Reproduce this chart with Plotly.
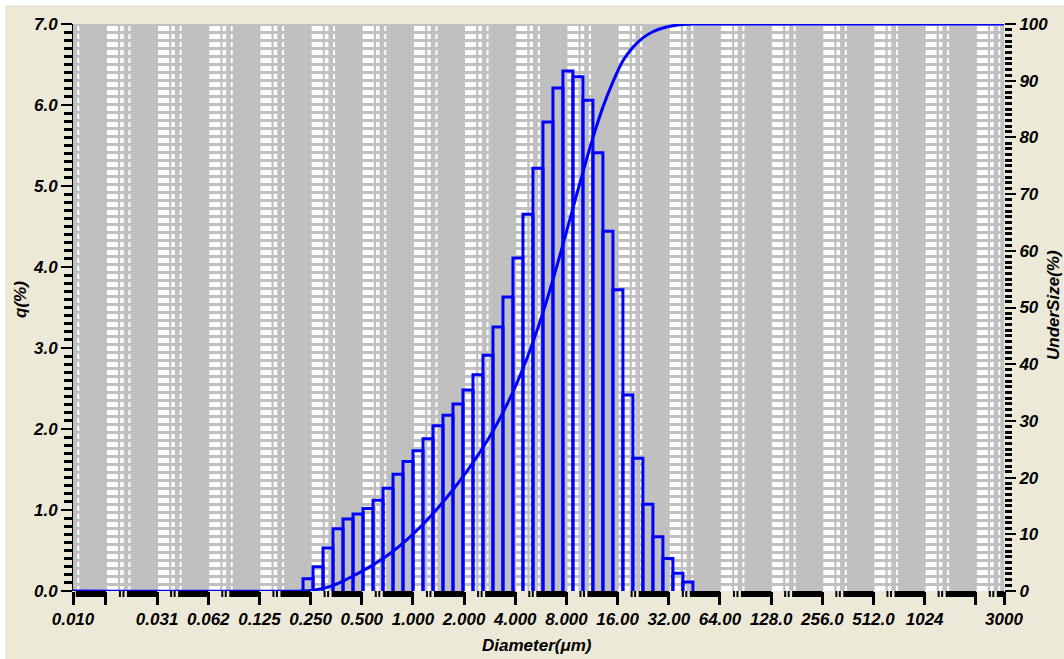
import plotly.graph_objects as go

# ---- data ----
bin_edges = [0.2256, 0.2583, 0.2958, 0.3387, 0.3878, 0.4440, 0.5084, 0.5821, 0.6665, 0.7632,
             0.8738, 1.0005, 1.1456, 1.3117, 1.5019, 1.7197, 1.9691, 2.2546, 2.5815, 2.9558,
             3.3844, 3.8752, 4.4371, 5.0805, 5.8172, 6.6607, 7.6265, 8.7323, 9.9985, 11.448,
             13.108, 15.009, 17.185, 19.677, 22.530, 25.797, 29.538, 33.821, 38.725, 44.340]
q_percent = [0.15, 0.30, 0.53, 0.77, 0.89, 0.95, 1.02, 1.12, 1.27, 1.44,
             1.60, 1.73, 1.88, 2.04, 2.17, 2.31, 2.48, 2.67, 2.91, 3.26,
             3.63, 4.11, 4.65, 5.22, 5.79, 6.21, 6.42, 6.35, 6.06, 5.41,
             4.44, 3.72, 2.42, 1.64, 1.07, 0.67, 0.40, 0.22, 0.11]
undersize = [0.0, 0.15, 0.45, 0.98, 1.75, 2.64, 3.59, 4.61, 5.73, 7.00, 8.44,
             10.04, 11.77, 13.65, 15.69, 17.86, 20.17, 22.65, 25.32, 28.23, 31.49,
             35.12, 39.23, 43.88, 49.10, 54.89, 61.10, 67.52, 73.87, 79.93, 85.34,
             89.78, 93.50, 95.92, 97.56, 98.63, 99.30, 99.70, 99.92, 100.0]
x_tickvals = [0.01, 0.015625, 0.03125, 0.0625, 0.125, 0.25, 0.5, 1, 2, 4, 8, 16, 32,
              64, 128, 256, 512, 1024, 2048, 3000]
x_ticktext = ["0.010", "", "0.031", "0.062", "0.125", "0.250", "0.500", "1.000", "2.000",
              "4.000", "8.000", "16.00", "32.00", "64.00", "128.0", "256.0", "512.0",
              "1024", "", "3000"]
octave_ticks = [0.0078125 * 2 ** k for k in range(0, 20)]
x_min, x_max = 0.01, 3000
q_max, u_max = 7.0, 100

# ---- style constants ----
PX_PER_OCT = 51.2
BLUE = "#0000FF"
BEIGE = "#ECE9D8"
GRAY = "#C0C0C0"
FONT = dict(family="Liberation Sans, Arial, sans-serif", size=17, color="black",
            weight="bold", style="italic")
L, R, T, B = 73, 60, 24, 68
W, H = 1064, 659
PW, PH = W - L - R, H - T - B


def off(v, px):
    return v * 2 ** (px / PX_PER_OCT)


def px_x(p):
    return (p - L) / PW


def px_y(p):
    return (H - B - p) / PH


fig = go.Figure()

# background grid pattern (white dashed vertical lines per octave)
grid_specs = [(6.5, 11), (16, 3.5), (23.5, 2)]
for px, lw in grid_specs:
    xs, ys = [], []
    for t in octave_ticks:
        xv = off(t, px)
        if x_min < xv < x_max:
            xs += [xv, xv, None]
            ys += [0, q_max, None]
    fig.add_trace(go.Scatter(x=xs, y=ys, mode="lines", hoverinfo="skip", showlegend=False,
                             line=dict(color="white", width=lw, dash="5px,3px")))

# histogram bars as outlines
hx, hy = [], []
for i, h in enumerate(q_percent):
    e0, e1 = bin_edges[i], bin_edges[i + 1]
    hx += [e0, e0, e1, e1, None]
    hy += [0, h, h, 0, None]
fig.add_trace(go.Scatter(x=hx, y=hy, mode="lines", showlegend=False, name="q(%)",
                         line=dict(color=BLUE, width=3)))

# cumulative undersize curve
cx = [x_min] + bin_edges + [x_max]
cy = [0.0] + undersize + [100.0]
fig.add_trace(go.Scatter(x=cx, y=cy, yaxis="y2", mode="lines", showlegend=False,
                         name="UnderSize(%)",
                         line=dict(color=BLUE, width=3, shape="spline", smoothing=0.6)))

# shapes: page background, plot background, bottom tick band
shapes = [
    dict(type="rect", xref="paper", yref="paper", layer="below",
         x0=px_x(5), x1=px_x(W + 2), y0=px_y(H + 2), y1=px_y(5),
         fillcolor=BEIGE, line=dict(width=0)),
    dict(type="rect", xref="paper", yref="paper", layer="below",
         x0=0, x1=1, y0=0, y1=1, fillcolor=GRAY, line=dict(width=0)),
]
band = 6 / PH
for t in octave_ticks:
    a = max(off(t, 21), x_min)
    b = min(t * 2, x_max)
    if a < b:
        shapes.append(dict(type="rect", xref="x", yref="paper", x0=a, x1=b, y0=-band, y1=0,
                           fillcolor="black", line=dict(width=0)))
    for px in (14, 17.5):
        xv = off(t, px)
        if x_min < xv < x_max:
            shapes.append(dict(type="line", xref="x", yref="paper", x0=xv, x1=xv,
                               y0=-band, y1=0, line=dict(color="black", width=2)))

annotations = [
    dict(text="Diameter(μm)", xref="paper", yref="paper", x=px_x(537), y=px_y(645),
         showarrow=False, font=FONT, xanchor="center", yanchor="middle"),
    dict(text="q(%)", xref="paper", yref="paper", x=px_x(20), y=px_y(300),
         showarrow=False, font=FONT, textangle=-90, xanchor="center", yanchor="middle"),
    dict(text="UnderSize(%)", xref="paper", yref="paper", x=px_x(1053), y=px_y(305),
         showarrow=False, font=FONT, textangle=-90, xanchor="center", yanchor="middle"),
]

fig.update_layout(
    width=W, height=H,
    margin=dict(l=L, r=R, t=T, b=B, pad=0, autoexpand=False),
    paper_bgcolor="white",
    plot_bgcolor="rgba(0,0,0,0)",
    shapes=shapes,
    annotations=annotations,
    showlegend=False,
    xaxis=dict(type="log", range=[-2, 3.4771], tickvals=x_tickvals, ticktext=x_ticktext,
               ticks="outside", ticklen=13, tickwidth=3, tickcolor="black",
               showgrid=False, zeroline=False, showline=False, automargin=False,
               tickfont=FONT, tickangle=0),
    yaxis=dict(range=[0, q_max], dtick=1, tickformat=".1f",
               ticks="outside", ticklen=11, tickwidth=2, tickcolor="black",
               minor=dict(dtick=0.1, ticks="outside", ticklen=8, tickwidth=3,
                          tickcolor="black", showgrid=False),
               showgrid=False, zeroline=False, showline=True, linecolor="black",
               automargin=False, tickfont=FONT),
    yaxis2=dict(range=[0, u_max], dtick=10, overlaying="y", side="right",
                ticks="outside", ticklen=11, tickwidth=2, tickcolor="black",
                minor=dict(dtick=1, ticks="outside", ticklen=7, tickwidth=3,
                           tickcolor="black", showgrid=False),
                showgrid=False, zeroline=False, showline=False, automargin=False,
                tickfont=FONT),
)

fig.write_html("out.html",
               config={"displayModeBar": False},
               post_script="document.body.style.margin='0';"
                           "document.body.style.overflow='hidden';")
